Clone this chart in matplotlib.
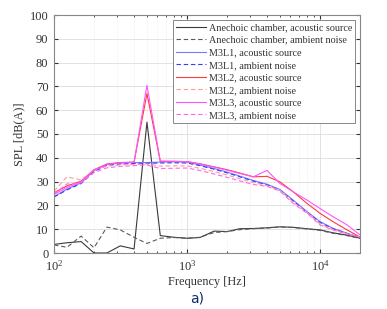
import numpy as np
import matplotlib
matplotlib.use('Agg')
import matplotlib.pyplot as plt
from matplotlib.ticker import LogLocator, NullFormatter

plt.rcParams['font.family'] = ['Liberation Serif', 'DejaVu Serif']
plt.rcParams['mathtext.fontset'] = 'custom'
plt.rcParams['mathtext.rm'] = 'Liberation Serif'

# third-octave centre frequencies [Hz]
freq = [100, 125, 160, 200, 250, 315, 400, 500, 630, 800, 1000, 1250,
        1600, 2000, 2500, 3150, 4000, 5000, 6300, 8000, 10000, 12500, 16000, 20000]

anech_src = [3.6, 4.3, 4.8, 0.0, 0.0, 3.0, 1.7, 55.0, 7.3, 6.6, 6.2, 6.5,
             9.2, 9.0, 10.2, 10.3, 10.6, 11.0, 10.8, 10.2, 9.7, 8.5, 7.5, 6.2]
anech_amb = [3.4, 2.4, 7.1, 2.2, 10.9, 9.7, 6.6, 4.0, 6.2, 6.5, 6.2, 6.6,
             8.6, 9.0, 9.8, 10.2, 10.5, 10.9, 10.7, 10.1, 9.5, 8.3, 7.3, 6.1]
m3l1_src = [23.7, 26.8, 29.5, 34.6, 37.2, 37.8, 38.0, 38.0, 38.2, 38.3, 38.2, 37.0,
            35.5, 34.0, 32.3, 30.5, 28.9, 26.7, 22.2, 17.4, 13.2, 10.4, 8.3, 6.5]
m3l1_amb = [23.5, 26.5, 29.2, 34.3, 36.8, 37.4, 37.6, 37.7, 37.8, 37.9, 37.8, 36.7,
            35.2, 33.7, 32.0, 30.2, 28.6, 26.4, 21.8, 17.0, 12.9, 10.2, 8.2, 6.5]
m3l2_src = [25.3, 28.2, 30.2, 35.0, 37.4, 38.0, 38.2, 67.0, 38.5, 38.5, 38.4, 37.5,
            36.2, 35.0, 33.6, 32.0, 32.2, 29.9, 25.7, 20.8, 16.7, 13.2, 9.7, 6.7]
m3l2_amb = [26.0, 32.0, 30.7, 35.0, 36.5, 37.0, 37.2, 37.4, 36.5, 36.6, 36.6, 35.6,
            34.2, 32.8, 31.2, 29.6, 28.3, 26.4, 21.3, 17.0, 12.2, 9.9, 8.1, 6.7]
m3l3_src = [24.6, 27.5, 29.8, 34.8, 37.3, 37.9, 38.1, 70.5, 38.6, 38.5, 38.4, 37.4,
            36.1, 34.8, 33.4, 32.0, 34.7, 29.2, 25.7, 22.2, 18.7, 15.3, 11.8, 7.6]
m3l3_amb = [24.8, 29.0, 29.5, 33.8, 35.8, 36.4, 36.7, 37.0, 35.5, 35.6, 35.7, 34.7,
            33.2, 31.8, 30.3, 28.8, 28.0, 26.0, 20.8, 16.7, 11.8, 9.7, 8.0, 6.7]

series = [
    (anech_src, 'Anechoic chamber, acoustic source', '#3a3a3a', '-'),
    (anech_amb, 'Anechoic chamber, ambient noise', '#5a5a5a', '--'),
    (m3l1_src, 'M3L1, acoustic source', '#7a7aff', '-'),
    (m3l1_amb, 'M3L1, ambient noise', '#3a3aff', '--'),
    (m3l2_src, 'M3L2, acoustic source', '#ff3a3a', '-'),
    (m3l2_amb, 'M3L2, ambient noise', '#ff9a9a', '--'),
    (m3l3_src, 'M3L3, acoustic source', '#ff55ff', '-'),
    (m3l3_amb, 'M3L3, ambient noise', '#ff66ee', '--'),
]

fig = plt.figure(figsize=(3.87, 3.09), dpi=100)
ax = fig.add_axes([54/387, 56/309, 306/387, 238/309])

for vals, lab, col, ls in series:
    ax.plot(freq, vals, color=col, ls=ls, lw=0.8, label=lab,
            dashes=(4, 2.5) if ls == '--' else (None, None))

ax.set_xscale('log')
ax.set_xlim(100, 20000)
ax.set_ylim(0, 100)
ax.set_yticks(np.arange(0, 101, 10))
ax.xaxis.set_minor_locator(LogLocator(base=10, subs=np.arange(2, 10)))
ax.xaxis.set_minor_formatter(NullFormatter())
ax.grid(True, which='major', color='#dddddd', lw=0.6)
ax.grid(True, which='minor', axis='x', color='#e6e6e6', lw=0.5, ls=':')
ax.set_axisbelow(True)
ax.tick_params(which='both', direction='in', top=True, right=True,
               labelsize=9, colors='#333333', length=3, pad=4)
ax.tick_params(which='minor', length=1.5)
for s in ax.spines.values():
    s.set_color('#888888')
    s.set_linewidth(0.8)

ax.set_xlabel('Frequency [Hz]', fontsize=8.8, color='#333333', labelpad=2)
ax.set_ylabel('SPL [dB(A)]', fontsize=8.8, color='#333333', labelpad=3)

leg = ax.legend(loc='upper right', fontsize=7.3, handlelength=3.0,
                handletextpad=0.2, labelspacing=0.34, borderpad=0.3,
                fancybox=False, framealpha=1, edgecolor='#888888',
                borderaxespad=0.5)
leg.get_frame().set_linewidth(0.7)
for t in leg.get_texts():
    t.set_color('#333333')

fig.text(190/387, 1 - 298/309, 'a)', fontsize=10, fontfamily='DejaVu Sans',
         color='#102a6a', ha='left', va='center')

fig.savefig('out.png', dpi=100)
